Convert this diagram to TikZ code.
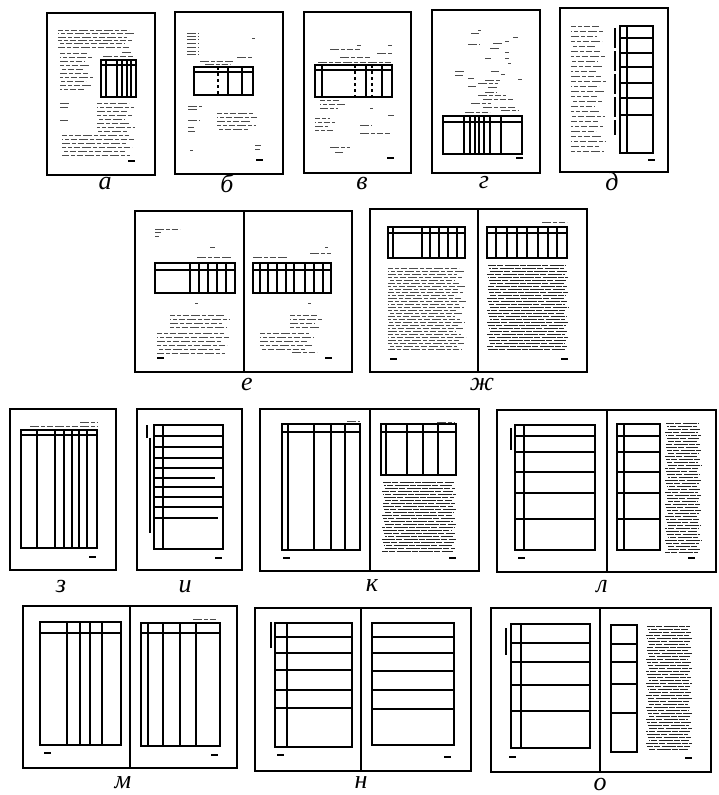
\documentclass[tikz,border=0pt]{standalone}
\usepackage{fontspec}
\setmainfont{Liberation Serif}
\usetikzlibrary{positioning}

% short text line, page number, blocks of text lines
\newcommand\tline[3]{\draw[txt] (#1,#2) -- ++(#3,0);}
\newcommand\pnum[2]{\draw[pnum] (#1,#2) -- ++(7,0);}
\newcommand\tlines[5]{%
  \foreach \yy [count=\ii, evaluate=\ii as \ph using {mod(\ii*4,11)}] in {#3,#4,...,#5}
    \draw[txt,dash phase=\ph pt] (#1,\yy) -- ({#2-mod(\ii*7,12)},\yy);}
\newcommand\dlines[5]{%
  \foreach \yy [count=\ii, evaluate=\ii as \ph using {mod(\ii*6,17)}] in {#3,#4,...,#5}
    \draw[dtxt,dash phase=\ph pt] ({#1+mod(\ii*5,4)},\yy) -- ({#2-mod(\ii*7,5)},\yy);}

\begin{document}
\begin{tikzpicture}[x=1pt,y=-1pt,
  page/.style={line width=1.5pt},
  tab/.style={line width=1.1pt},
  txt/.style={line width=0.6pt,black!70,dash pattern=on 9pt off 2pt on 4pt off 1.5pt on 6pt off 2.5pt},
  dtxt/.style={line width=1pt,black!85,dash pattern=on 14pt off 1pt on 6pt off 1.5pt},
  pnum/.style={line width=1.7pt},
  lab/.style={font=\fontsize{26}{28}\selectfont\itshape,inner sep=0pt}]
\useasboundingbox (0,0) rectangle (718,795);

% a
\draw[page] (47,13) rectangle (155,175);
\tlines{58}{136}{30}{33.4}{47}
\tlines{60}{94}{53}{57}{89}
\tline{103}{56}{30} \tline{122}{52}{11}
\draw[tab] (101,60) rectangle (136,97) (101,65) -- (136,65);
\foreach \x in {106,117,122,127,131} \draw[tab] (\x,60) -- (\x,97);
\tlines{97}{136}{103}{107}{131}
\tline{60}{103}{10} \tline{60}{107}{8} \tline{60}{120}{8}
\tlines{62}{136}{135}{139}{155}
\pnum{128}{161}

% b
\draw[page] (175,12) rectangle (283,174);
\foreach \y in {33,36,39,43,47,51,54} \tline{187}{\y}{12}
\tline{252}{38}{3}
\tline{200}{61}{33} \tline{205}{64}{25} \tline{237}{57}{16}
\draw[tab] (194,67) rectangle (253,95) (194,72) -- (253,72);
\draw[tab,dashed] (218,67) -- (218,95);
\foreach \x in {228,242} \draw[tab] (\x,67) -- (\x,95);
\tline{188}{106}{14} \tline{188}{109}{10} \tline{188}{120}{12}
\tline{188}{127}{6} \tline{188}{131}{7}
\tlines{217}{260}{113}{117}{132}
\tline{255}{145}{6} \tline{255}{149}{5} \tline{190}{150}{3}
\pnum{256}{160}

% v
\draw[page] (304,12) rectangle (411,173);
\tline{357}{45}{4} \tline{388}{45}{4} \tline{330}{49}{30} \tline{377}{53}{16}
\tline{340}{57}{30} \tline{318}{62}{74}
\draw[tab] (315,65) rectangle (392,97) (315,70) -- (392,70);
\foreach \x in {322,366,382} \draw[tab] (\x,65) -- (\x,97);
\foreach \x in {355,372} \draw[tab,dashed] (\x,65) -- (\x,97);
\tlines{320}{347}{100}{104}{108}
\tline{370}{108}{3} \tline{388}{115}{6}
\tlines{315}{337}{118}{122}{130}
\tline{360}{125}{12} \tline{360}{133}{30} \tline{330}{147}{20} \tline{335}{152}{8}
\pnum{387}{158}

% g
\draw[page] (432,10) rectangle (540,173);
\foreach \x/\y/\l in {471/33/8,478/30/3,513/37/5,505/41/4,468/44/12,493/43/10,
  490/48/10,505/52/4,485/58/6,505/58/4,508/63/3,455/71/10,491/71/8,455/75/8,
  501/74/4,468/78/6,485/80/15,518/79/4,478/83/20,468/86/8,488/87/10,485/92/12,
  478/95/28,483/99/30,471/103/20,483/107/32,501/110/18,465/112/25}
  \tline{\x}{\y}{\l}
\draw[tab] (443,116) rectangle (522,154) (443,122) -- (522,122);
\foreach \x in {464,470,475,479,484,490,501} \draw[tab] (\x,116) -- (\x,154);
\pnum{516}{158}

% d
\draw[page] (560,8) rectangle (668,172);
\tlines{571}{606}{26}{31}{151}
\draw[tab] (620,26) rectangle (653,153) (627,26) -- (627,153);
\foreach \y in {38,53,67,83,98,115} \draw[tab] (620,\y) -- (653,\y);
\draw[tab,dash pattern=on 20pt off 3pt] (615,28) -- (615,135);
\pnum{648}{160}

% e
\draw[page] (135,211) rectangle (352,372) (244,211) -- (244,372);
\tline{155}{229}{25} \tline{155}{232}{6} \tline{155}{236}{4} \tline{210}{247}{5}
\tline{197}{257}{35}
\draw[tab] (155,263) rectangle (235,293) (155,270) -- (235,270);
\foreach \x in {190,199,208,217,226} \draw[tab] (\x,263) -- (\x,293);
\tline{195}{303}{3}
\tlines{170}{231}{315}{319}{327} \tlines{157}{231}{333}{337}{353}
\pnum{157}{358}
\tline{325}{247}{3} \tline{310}{253}{21} \tline{253}{257}{34}
\draw[tab] (253,263) rectangle (331,293) (253,270) -- (331,270);
\foreach \x in {260,268,277,286,294,305,314,323} \draw[tab] (\x,263) -- (\x,293);
\tline{308}{303}{3}
\tlines{290}{324}{315}{319}{327} \tlines{260}{316}{333}{337}{349}
\tline{292}{352}{25}
\pnum{325}{358}

% zh
\draw[page] (370,209) rectangle (587,372) (478,209) -- (478,372);
\draw[tab] (388,227) rectangle (465,258) (388,233) -- (465,233);
\foreach \x in {393,422,430,439,448,457} \draw[tab] (\x,227) -- (\x,258);
\tlines{388}{466}{268}{271}{350}
\pnum{390}{359}
\tline{542}{222}{25}
\draw[tab] (487,227) rectangle (567,258) (487,233) -- (567,233);
\foreach \x in {496,507,517,527,538,548,557} \draw[tab] (\x,227) -- (\x,258);
\dlines{487}{568}{265}{268}{350}
\pnum{561}{359}

% z
\draw[page] (10,409) rectangle (116,570);
\tline{80}{422}{17} \tline{30}{426}{67}
\draw[tab] (21,430) rectangle (97,548) (21,435) -- (97,435);
\foreach \x in {37,55,64,72,79,87} \draw[tab] (\x,430) -- (\x,548);
\pnum{89}{557}

% i
\draw[page] (137,409) rectangle (242,570);
\draw[tab] (154,425) rectangle (223,549) (163,425) -- (163,549);
\foreach \y/\e in {436/223,447/223,458/223,468/223,478/215,487/223,497/223,507/223,518/218}
  \draw[tab] (154,\y) -- (\e,\y);
\draw[tab] (147,425) -- (147,438) (150,438) -- (150,533);
\pnum{215}{558}

% k
\draw[page] (260,409) rectangle (479,571) (370,409) -- (370,571);
\tline{347}{421}{13}
\draw[tab] (282,424) rectangle (360,550) (282,432) -- (360,432);
\foreach \x in {288,314,331,345} \draw[tab] (\x,424) -- (\x,550);
\pnum{283}{558}
\tline{437}{422}{18}
\draw[tab] (381,424) rectangle (456,475) (381,432) -- (456,432);
\foreach \x in {386,407,423,438} \draw[tab] (\x,424) -- (\x,475);
\dlines{382}{456}{482}{485}{552}
\pnum{449}{558}

% l
\draw[page] (497,410) rectangle (716,572) (607,410) -- (607,572);
\draw[tab] (515,425) rectangle (595,550) (524,425) -- (524,550);
\foreach \y in {436,452,472,493,519} \draw[tab] (515,\y) -- (595,\y);
\draw[tab] (511,428) -- (511,450);
\pnum{518}{558}
\draw[tab] (617,424) rectangle (660,550) (624,424) -- (624,550);
\foreach \y in {436,452,472,493,519} \draw[tab] (617,\y) -- (660,\y);
\dlines{665}{701}{423}{426}{552}
\pnum{688}{558}

% m
\draw[page] (23,606) rectangle (237,768) (130,606) -- (130,768);
\draw[tab] (40,622) rectangle (121,745) (40,633) -- (121,633);
\foreach \x in {67,80,90,102} \draw[tab] (\x,622) -- (\x,745);
\pnum{44}{753}
\tline{193}{619}{24}
\draw[tab] (141,623) rectangle (220,746) (141,633) -- (220,633);
\foreach \x in {148,163,180,196} \draw[tab] (\x,623) -- (\x,746);
\pnum{211}{755}

% n
\draw[page] (255,608) rectangle (471,771) (361,608) -- (361,771);
\draw[tab] (275,623) rectangle (352,747) (287,623) -- (287,747);
\foreach \y in {637,653,670,690,708} \draw[tab] (275,\y) -- (352,\y);
\draw[tab] (271,622) -- (271,648);
\pnum{277}{755}
\draw[tab] (372,623) rectangle (454,745);
\foreach \y in {637,653,671,690,709} \draw[tab] (372,\y) -- (454,\y);
\pnum{444}{757}

% o
\draw[page] (491,608) rectangle (711,772) (600,608) -- (600,772);
\draw[tab] (511,624) rectangle (590,748) (521,624) -- (521,748);
\foreach \y in {643,662,685,711} \draw[tab] (511,\y) -- (590,\y);
\draw[tab] (506,628) -- (506,655);
\pnum{509}{757}
\draw[tab] (611,625) rectangle (637,752);
\foreach \y in {644,662,684,713} \draw[tab] (611,\y) -- (637,\y);
\dlines{646}{692}{626}{629}{750}
\pnum{685}{758}

% labels
\node[lab] (lbA) at (105,184) {а};
\node[lab] (lbB) at (227,183) {б};
\node[lab] (lbV) at (362,183) {в};
\node[lab] (lbG) at (484,183) {г};
\node[lab] (lbD) at (612,182) {д};
\node[lab] (lbE) at (247,384) {е};
\node[lab] (lbZh) at (482,384) {ж};
\node[lab] (lbZ) at (61,586) {з};
\node[lab] (lbI) at (185,587) {и};
\node[lab] (lbK) at (372,586) {к};
\node[lab] (lbL) at (602,587) {л};
\node[lab] (lbM) at (123,783) {м};
\node[lab] (lbN) at (361,783) {н};
\node[lab] (lbO) at (600,784) {о};
\end{tikzpicture}
\end{document}
